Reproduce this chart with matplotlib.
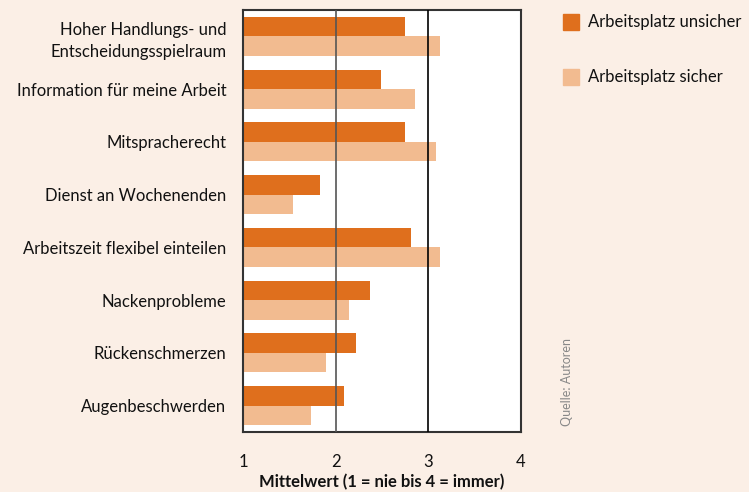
import matplotlib
matplotlib.use("Agg")
import matplotlib.pyplot as plt
import numpy as np
from matplotlib.patches import Rectangle

categories = ["Hoher Handlungs- und\nEntscheidungsspielraum", "Information für meine Arbeit",
              "Mitspracherecht", "Dienst an Wochenenden", "Arbeitszeit flexibel einteilen",
              "Nackenprobleme", "Rückenschmerzen", "Augenbeschwerden"]
unsicher = [2.75, 2.49, 2.75, 1.83, 2.81, 2.37, 2.22, 2.09]
sicher = [3.13, 2.86, 3.08, 1.54, 3.13, 2.14, 1.90, 1.73]
series_names = ["Arbeitsplatz unsicher", "Arbeitsplatz sicher"]
xticks = [1, 2, 3, 4]
xlabel = "Mittelwert (1 = nie bis 4 = immer)"
source = "Quelle: Autoren"

plt.rcParams['font.family'] = ['Lato', 'DejaVu Sans']
bg = "#FBEFE6"
c_dark = "#DF6F1D"
c_light = "#F2BB90"
txt = "#111111"

fig = plt.figure(figsize=(7.49, 4.92), dpi=100, facecolor=bg)
ax = fig.add_axes([243/749, 1-432/492, (521-243)/749, (432-10)/492])
ax.set_facecolor("white")

y = np.arange(len(categories))
h = 0.37
ax.barh(y - h/2, np.array(unsicher) - 1, left=1, height=h, color=c_dark, zorder=2)
ax.barh(y + h/2, np.array(sicher) - 1, left=1, height=h, color=c_light, zorder=2)
ax.set_ylim(len(categories) - 0.5, -0.5)
ax.set_xlim(1, 4)
ax.axvline(2, color="#555555", lw=1.2, zorder=3)
ax.axvline(3, color="black", lw=1.2, zorder=3)
ax.set_yticks(y)
ax.set_yticklabels(categories, fontsize=12, color=txt, linespacing=1.45)
ax.set_xticks(xticks)
ax.set_xticklabels([str(t) for t in xticks], fontsize=12, color=txt)
ax.tick_params(length=0)
ax.tick_params(axis='x', pad=16)
ax.tick_params(axis='y', pad=12)
for s in ax.spines.values():
    s.set_color("#333333")
    s.set_linewidth(1.5)

fig.text((243+521)/2/749, 2/492, xlabel, fontsize=12, fontweight="bold", color=txt,
         ha="center", va="bottom")

# legend
for i, (name, col) in enumerate(zip(series_names, [c_dark, c_light])):
    yy = 1 - (22 + i*55)/492
    fig.patches.append(Rectangle((563/749, yy - 8/492), 16/749, 16/492,
                                 transform=fig.transFigure, color=col, figure=fig))
    fig.text(588/749, yy, name, fontsize=12, va="center", ha="left", color=txt)

fig.text(567/749, 1-382/492, source, rotation=90, fontsize=9, color="#888888",
         va="center", ha="center")

fig.savefig("out.png", dpi=100, facecolor=bg)
